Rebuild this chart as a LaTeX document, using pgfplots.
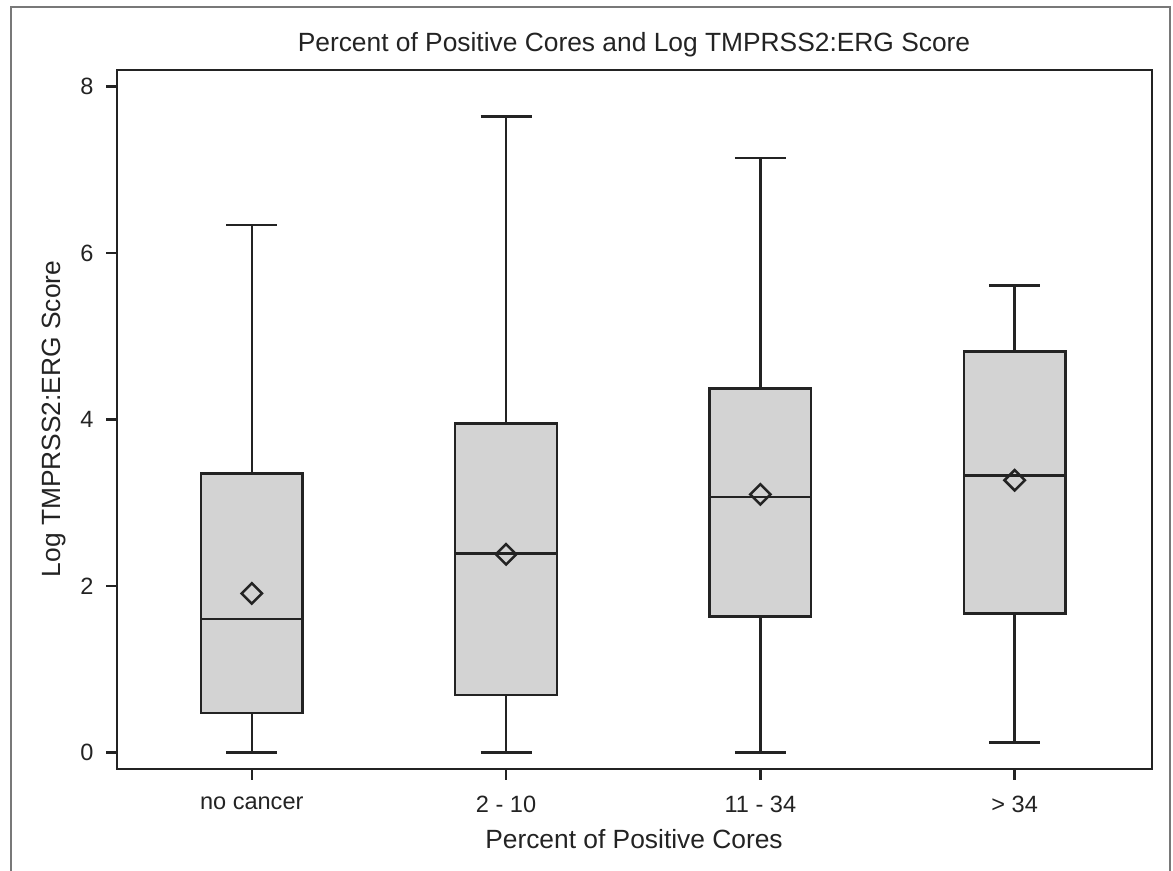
\documentclass[border=0pt]{standalone}
\usepackage{pgfplots}
\pgfplotsset{compat=1.18}
\usepgfplotslibrary{statistics}
\usepackage{fontspec}
\setmainfont{Liberation Sans}
\definecolor{boxfill}{RGB}{211,211,211}
\definecolor{ink}{RGB}{35,35,35}
\definecolor{framegray}{RGB}{120,120,120}
\begin{document}
\begin{tikzpicture}[x=0.1mm,y=0.1mm]
% canvas measured in pixels of the original (1173 x 871)
\useasboundingbox (0,0) rectangle (1173,871);
\draw[framegray, line width=0.2mm] (11,0) -- (11,864) -- (1170,864) -- (1170,0);
\begin{axis}[
  at={(11.7mm,10.2mm)}, anchor=south west,
  scale only axis, width=103.5mm, height=69.9mm,
  xmin=-0.53, xmax=3.54, ymin=-0.2, ymax=8.2,
  xtick={0,1,2,3},
  xticklabels={no cancer, 2 - 10, 11 - 34, > 34},
  ytick={0,2,4,6,8},
  xtick pos=left, ytick pos=left,
  tick align=outside, major tick length=1.1mm,
  axis line style={ink, line width=0.25mm},
  every tick/.style={ink, line width=0.25mm},
  tick label style={font=\fontsize{6.7}{7.5}\selectfont, text=ink},
  /pgf/number format/assume math mode=true,
  xticklabel style={yshift=-0.4mm},
  yticklabel style={xshift=0mm},
  boxplot/draw direction=y,
  every axis plot/.append style={ink, line width=0.25mm},
]
\addplot[boxplot prepared={draw position=0, box extend=0.4, whisker extend=0.2,
  lower whisker=0, lower quartile=0.47, median=1.60,
  upper quartile=3.35, upper whisker=6.34}, fill=boxfill, draw=ink]
  coordinates {};
\addplot[boxplot prepared={draw position=1, box extend=0.4, whisker extend=0.2,
  lower whisker=0, lower quartile=0.69, median=2.39,
  upper quartile=3.95, upper whisker=7.64}, fill=boxfill, draw=ink]
  coordinates {};
\addplot[boxplot prepared={draw position=2, box extend=0.4, whisker extend=0.2,
  lower whisker=0, lower quartile=1.63, median=3.07,
  upper quartile=4.37, upper whisker=7.14}, fill=boxfill, draw=ink]
  coordinates {};
\addplot[boxplot prepared={draw position=3, box extend=0.4, whisker extend=0.2,
  lower whisker=0.12, lower quartile=1.67, median=3.33,
  upper quartile=4.82, upper whisker=5.61}, fill=boxfill, draw=ink]
  coordinates {};
% means
\addplot[only marks, mark=square, mark size=0.72mm,
  mark options={rotate=45, draw=ink, fill=none, line width=0.25mm}]
  coordinates {(0,1.91) (1,2.38) (2,3.10) (3,3.27)};
\end{axis}
\node[anchor=base, font=\fontsize{7.5}{9}\selectfont, text=ink] at (634,819)
  {Percent of Positive Cores and Log TMPRSS2:ERG Score};
\node[anchor=base, font=\fontsize{7.5}{9}\selectfont, text=ink] at (634,22)
  {Percent of Positive Cores};
\node[anchor=base, rotate=90, font=\fontsize{7.5}{9}\selectfont, text=ink] at (61,452)
  {Log TMPRSS2:ERG Score};
\end{tikzpicture}
\end{document}
